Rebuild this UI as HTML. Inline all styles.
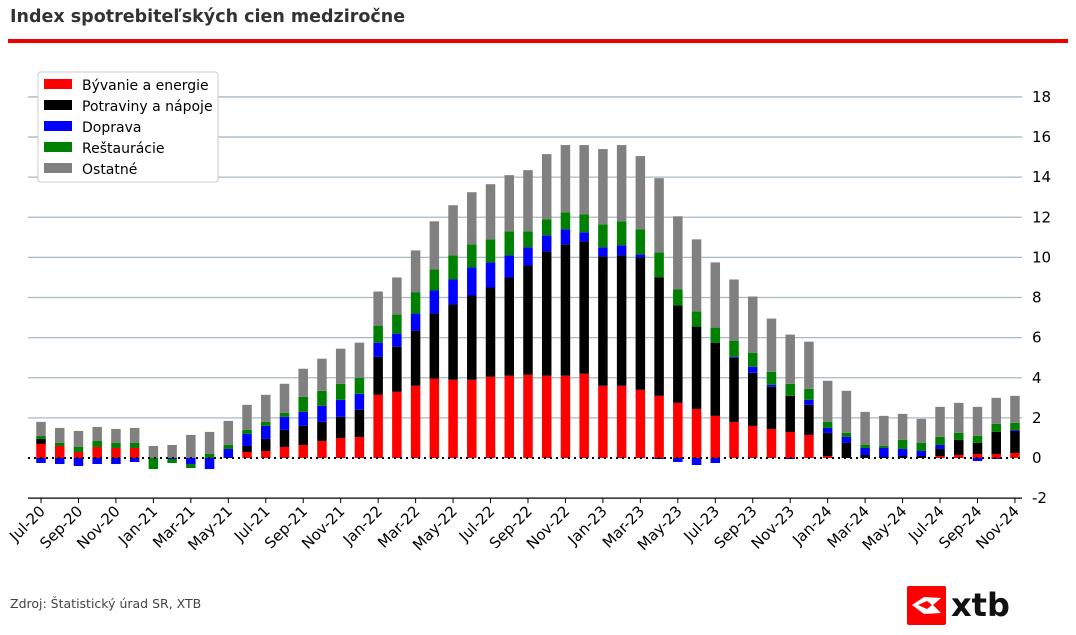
<!DOCTYPE html>
<html><head><meta charset="utf-8"><style>
body{margin:0;width:1076px;height:635px;background:#fff;font-family:"DejaVu Sans","Liberation Sans",sans-serif;overflow:hidden;position:relative}
#title{position:absolute;left:10px;top:7px;font-size:17.5px;font-weight:bold;color:#333}
#rule{position:absolute;left:8px;top:39px;width:1060px;height:4px;background:#e00}
#src{position:absolute;left:10px;top:596px;font-size:12.5px;color:#444}
svg{position:absolute;left:0;top:0;font-family:"DejaVu Sans","Liberation Sans",sans-serif}
</style></head><body>
<div id="title">Index spotrebiteľských cien medziročne</div>
<div id="rule"></div>
<div id="src">Zdroj: Štatistický úrad SR, XTB</div>
<svg id="chart" width="1076" height="635"></svg>
<script>
const months=["Jul-20","Aug-20","Sep-20","Oct-20","Nov-20","Dec-20","Jan-21","Feb-21","Mar-21","Apr-21","May-21","Jun-21","Jul-21","Aug-21","Sep-21","Oct-21","Nov-21","Dec-21","Jan-22","Feb-22","Mar-22","Apr-22","May-22","Jun-22","Jul-22","Aug-22","Sep-22","Oct-22","Nov-22","Dec-22","Jan-23","Feb-23","Mar-23","Apr-23","May-23","Jun-23","Jul-23","Aug-23","Sep-23","Oct-23","Nov-23","Dec-23","Jan-24","Feb-24","Mar-24","Apr-24","May-24","Jun-24","Jul-24","Aug-24","Sep-24","Oct-24","Nov-24"];
const housing=[0.7,0.6,0.3,0.55,0.5,0.5,0,0,0,0,0,0.3,0.35,0.55,0.65,0.85,1.0,1.05,3.15,3.3,3.6,3.95,3.9,3.9,4.05,4.1,4.15,4.1,4.1,4.2,3.6,3.6,3.4,3.1,2.75,2.45,2.1,1.8,1.6,1.45,1.3,1.15,0.1,0,0,0,0,0,0.1,0.15,0.2,0.2,0.25];
const food=[0.25,0,0,0,0,0,0,0,0,0,0,0.3,0.6,0.85,0.95,0.95,1.05,1.35,1.9,2.25,2.75,3.25,3.75,4.2,4.45,4.9,5.45,6.2,6.55,6.6,6.45,6.5,6.6,5.9,4.85,4.1,3.65,3.2,2.65,2.1,1.8,1.5,1.15,0.75,0.15,0.05,0.1,0.1,0.35,0.75,0.55,1.1,1.1];
const transport=[-0.25,-0.3,-0.4,-0.3,-0.3,-0.2,0,-0.05,-0.3,-0.55,0.45,0.6,0.65,0.65,0.7,0.8,0.85,0.8,0.7,0.65,0.85,1.15,1.25,1.4,1.25,1.1,0.9,0.8,0.75,0.45,0.45,0.5,0.15,-0.05,-0.2,-0.35,-0.25,0.05,0.3,0.1,-0.05,0.25,0.25,0.3,0.35,0.45,0.35,0.25,0.2,0,-0.15,-0.05,0.05];
const restaurants=[0.15,0.15,0.25,0.3,0.25,0.25,-0.55,-0.2,-0.2,0.2,0.2,0.2,0.2,0.2,0.75,0.75,0.8,0.8,0.85,0.95,1.05,1.05,1.2,1.15,1.15,1.2,0.8,0.8,0.85,0.9,1.15,1.2,1.25,1.25,0.8,0.75,0.75,0.8,0.7,0.65,0.6,0.55,0.3,0.2,0.15,0.1,0.45,0.4,0.4,0.35,0.35,0.4,0.35];
const other=[0.7,0.75,0.8,0.7,0.7,0.75,0.6,0.65,1.15,1.1,1.2,1.25,1.35,1.45,1.4,1.6,1.75,1.75,1.7,1.85,2.1,2.4,2.5,2.6,2.75,2.8,3.05,3.25,3.35,3.45,3.75,3.8,3.65,3.7,3.65,3.6,3.25,3.05,2.8,2.65,2.45,2.35,2.05,2.1,1.65,1.5,1.3,1.2,1.5,1.5,1.45,1.3,1.35];
const yTicks=[-2,0,2,4,6,8,10,12,14,16,18];
const seriesNames=["Bývanie a energie","Potraviny a nápoje","Doprava","Reštaurácie","Ostatné"];
const seriesColors=["#ff0000","#000000","#0000ff","#008000","#808080"];
const series=[housing,food,transport,restaurants,other];
const NS="http://www.w3.org/2000/svg";
const svg=document.getElementById('chart');
const X0=41,DX=18.73,Y0=458,PU=20.06,BW=9.5,LEFT=28,RIGHT=1022;
const xs=i=>X0+i*DX, ys=v=>Y0-v*PU;
function mk(t,a){const e=document.createElementNS(NS,t);for(const k in a)e.setAttribute(k,a[k]);svg.appendChild(e);return e;}
yTicks.forEach(t=>{
  if(t>0){const g=mk('line',{x1:LEFT,x2:RIGHT,y1:ys(t),y2:ys(t),stroke:'#aab8c2','stroke-width':1.3});
  
  }
  const l=mk('text',{x:1032,y:ys(t)+5,'font-size':15,fill:'#000'});l.textContent=t;
  
  
});
const ax=mk('line',{x1:LEFT,x2:RIGHT,y1:ys(-2),y2:ys(-2),stroke:'#000','stroke-width':1.3});


months.forEach((m,i)=>{
  let pos=0,neg=0;
  series.forEach((s,k)=>{
    const v=s[i]; if(!v) return;
    let y1,y2; if(v>0){y1=pos;y2=pos+v;pos=y2;}else{y1=neg+v;y2=neg;neg=y1;}
    const r=mk('rect',{x:xs(i)-BW/2,y:ys(y2),width:BW,height:(y2-y1)*PU,fill:seriesColors[k]});
    
    
  });
  if(i%2===0){
    mk('line',{x1:xs(i),x2:xs(i),y1:ys(-2),y2:ys(-2)+5,stroke:'#000','stroke-width':1});
    const t=mk('text',{x:0,y:0,'font-size':15,fill:'#000','text-anchor':'end',transform:`translate(${xs(i)+5},${ys(-2)+14}) rotate(-45)`});
    t.textContent=m;
    
    
  }
});
const z=mk('line',{x1:LEFT,x2:RIGHT,y1:Y0,y2:Y0,stroke:'#000','stroke-width':2,'stroke-dasharray':'2,4'});


const lg=mk('rect',{x:38,y:72,width:180,height:110,rx:3,fill:'#fff',stroke:'#ccc'});


seriesNames.forEach((n,k)=>{
  const y=78+k*21;
  mk('rect',{x:44,y:y+1,width:28,height:10,fill:seriesColors[k]});
  const t=mk('text',{x:82,y:y+12,'font-size':14,fill:'#000'});t.textContent=n;
  
  
});
const logo=mk('rect',{x:907,y:586,width:39,height:39,rx:2,fill:'#ff0000'});


mk('path',{d:'M912 605 L924 597 L941 598 L933 605 L941 613 L924 614 Z',fill:'#fff'});
mk('path',{d:'M918 605 L927 601 L932 605 L927 609 Z',fill:'#ff0000'});
const lt=mk('text',{x:951,y:616,'font-size':32,'font-weight':'bold',fill:'#111'});lt.textContent='xtb';


</script>
</body></html>
